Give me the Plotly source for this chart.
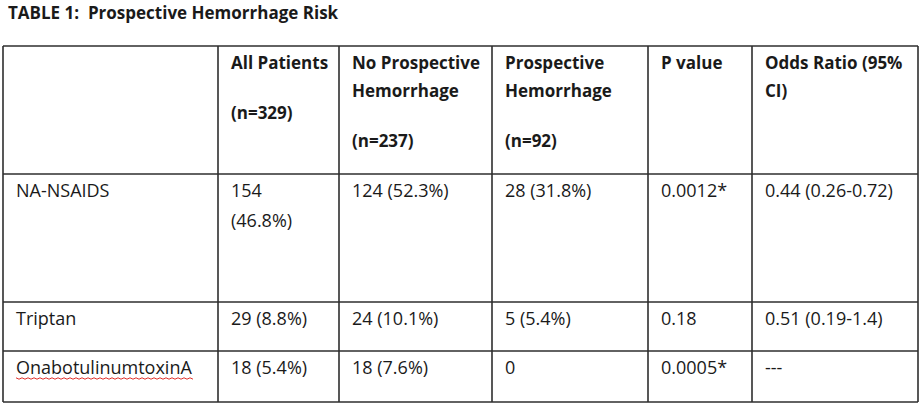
import plotly.graph_objects as go

# ---------------- data ----------------
title = "TABLE 1:  Prospective Hemorrhage Risk"
header_paragraphs = [
    [],
    [["All Patients"], ["(n=329)"]],
    [["No Prospective", "Hemorrhage"], ["(n=237)"]],
    [["Prospective", "Hemorrhage"], ["(n=92)"]],
    [["P value"]],
    [["Odds Ratio (95%", "CI)"]],
]
row_labels = ["NA-NSAIDS", "Triptan", "OnabotulinumtoxinA"]
all_patients = [["154", "(46.8%)"], ["29 (8.8%)"], ["18 (5.4%)"]]
no_prospective = ["124 (52.3%)", "24 (10.1%)", "18 (7.6%)"]
prospective = ["28 (31.8%)", "5 (5.4%)", "0"]
p_values = ["0.0012*", "0.18", "0.0005*"]
odds_ratios = ["0.44 (0.26-0.72)", "0.51 (0.19-1.4)", "---"]

# ---------------- layout geometry ----------------
W, H = 921, 405
col_x = [3, 218, 339, 492, 648, 752, 918]
row_y = [46, 174, 302, 351, 402]
pad_x = 11
FONT = "'Open Sans', Lato, sans-serif"
FS_BOLD = 17
FS = 18
TXT = "#1a1a1a"
LINE = "#2e2e2e"

fig = go.Figure()
fig.add_trace(go.Scatter(x=[None], y=[None], showlegend=False, hoverinfo="skip"))

shapes = []
for x in col_x:
    shapes.append(dict(type="line", xref="x", yref="y", x0=x, x1=x, y0=row_y[0], y1=row_y[-1],
                       line=dict(color=LINE, width=1.6)))
for y in row_y:
    shapes.append(dict(type="line", xref="x", yref="y", x0=col_x[0], x1=col_x[-1], y0=y, y1=y,
                       line=dict(color=LINE, width=1.6)))

ann = []
ann.append(dict(x=6, y=12, text="<b>" + title + "</b>", showarrow=False, xanchor="left", yanchor="middle",
                font=dict(family=FONT, size=FS_BOLD, color=TXT)))

def add_text(col, y, text, bold=False):
    ann.append(dict(x=col_x[col] + pad_x, y=y, text=("<b>%s</b>" % text) if bold else text,
                    showarrow=False, xanchor="left", yanchor="middle",
                    font=dict(family=FONT, size=FS_BOLD if bold else FS, color=TXT)))

# header
for c, paras in enumerate(header_paragraphs):
    y = row_y[0] + 16
    for pi, para in enumerate(paras):
        if pi > 0:
            y += 50
        for li, line in enumerate(para):
            if li > 0:
                y += 28
            add_text(c, y, line, bold=True)

# body
body_cols = [[[r] for r in row_labels], all_patients,
             [[v] for v in no_prospective], [[v] for v in prospective],
             [[v] for v in p_values], [[v] for v in odds_ratios]]
for r in range(len(row_labels)):
    top = row_y[r + 1]
    for c, col in enumerate(body_cols):
        for li, line in enumerate(col[r]):
            add_text(c, top + 16 + li * 30, line)

# spell-check squiggle under the last row label
y0 = row_y[3] + 16 + 11
x_start = col_x[0] + pad_x + 2
n = 59
pts = []
for i in range(n + 1):
    xx = x_start + i * 3
    yy = y0 + (1.2 if i % 2 else -0.2)
    pts.append(("M" if i == 0 else "L") + " %.1f %.1f" % (xx, yy))
shapes.append(dict(type="path", xref="x", yref="y", path=" ".join(pts),
                   line=dict(color="#e0302b", width=1)))

fig.update_layout(
    width=W, height=H, margin=dict(l=0, r=0, t=0, b=0),
    paper_bgcolor="white", plot_bgcolor="white",
    xaxis=dict(range=[0, W], visible=False, fixedrange=True),
    yaxis=dict(range=[H, 0], visible=False, fixedrange=True),
    shapes=shapes, annotations=ann,
)
fig.write_html("out.html", config={"displayModeBar": False},
               post_script="document.body.style.margin='0';document.body.style.overflow='hidden';")
